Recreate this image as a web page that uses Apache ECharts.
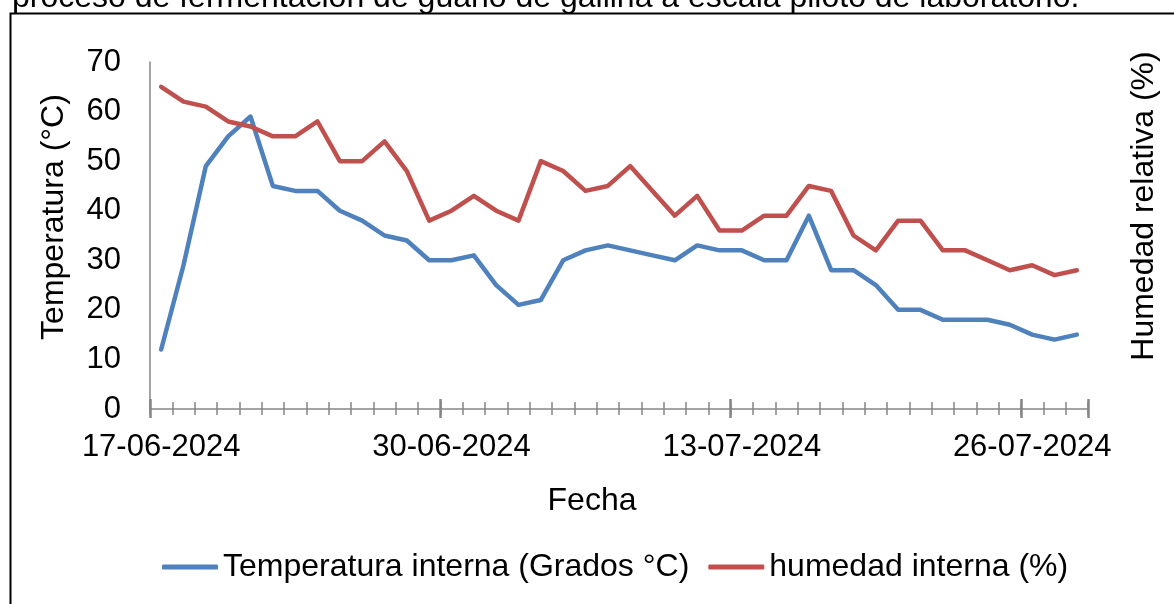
<!DOCTYPE html>
<html>
<head>
<meta charset="utf-8">
<script src="https://cdn.jsdelivr.net/npm/echarts@6/dist/echarts.min.js"></script>
<style>
html, body { margin: 0; padding: 0; background: #fff; }
#chart { width: 1174px; height: 604px; }
</style>
</head>
<body>
<div id="chart"></div>
<script>
var fechas = ['17-06-2024','18-06-2024','19-06-2024','20-06-2024','21-06-2024','22-06-2024','23-06-2024',
	'24-06-2024','25-06-2024','26-06-2024','27-06-2024','28-06-2024','29-06-2024','30-06-2024',
	'01-07-2024','02-07-2024','03-07-2024','04-07-2024','05-07-2024','06-07-2024','07-07-2024',
	'08-07-2024','09-07-2024','10-07-2024','11-07-2024','12-07-2024','13-07-2024','14-07-2024',
	'15-07-2024','16-07-2024','17-07-2024','18-07-2024','19-07-2024','20-07-2024','21-07-2024',
	'22-07-2024','23-07-2024','24-07-2024','25-07-2024','26-07-2024','27-07-2024','28-07-2024'];
var temperatura = [12, 29, 49, 55, 59, 45, 44, 44, 40, 38, 35, 34, 30, 30,
	31, 25, 21, 22, 30, 32, 33, 32, 31, 30, 33, 32, 32, 30,
	30, 39, 28, 28, 25, 20, 20, 18, 18, 18, 17, 15, 14, 15];
var humedad = [65, 62, 61, 58, 57, 55, 55, 58, 50, 50, 54, 48, 38, 40,
	43, 40, 38, 50, 48, 44, 45, 49, 44, 39, 43, 36, 36, 39,
	39, 45, 44, 35, 32, 38, 38, 32, 32, 30, 28, 29, 27, 28];
var yTicks = [0, 70, 10]; // min, max, paso

var fuente = '"Liberation Sans", Arial, sans-serif';
var gris = '#868686';

var chart = echarts.init(document.getElementById('chart'));

// eje x extra, solo para dibujar marcas
function ejeMarcas(inside, len, width, interval) {
	return {
		type: 'category',
		data: fechas,
		position: 'bottom',
		boundaryGap: true,
		axisLine: { show: false },
		axisLabel: { show: false },
		axisTick: { show: true, inside: inside, length: len, interval: interval,
			lineStyle: { color: gris, width: width } },
		splitLine: { show: false }
	};
}

chart.setOption({
	animation: false,
	textStyle: { fontFamily: fuente },
	grid: { left: 150, right: 86, top: 62, bottom: 195, containLabel: false },
	legend: {
		left: 157,
		top: 546,
		itemWidth: 56,
		itemHeight: 5,
		itemGap: 19,
		icon: 'roundRect',
		textStyle: { fontSize: 32, color: '#000', fontFamily: fuente },
		data: ['Temperatura interna (Grados °C)', 'humedad interna (%)']
	},
	xAxis: [{
		type: 'category',
		data: fechas,
		position: 'bottom',
		boundaryGap: true,
		axisLine: { show: true, lineStyle: { color: gris, width: 1.5 } },
		axisTick: { show: true, length: 6, interval: 0, lineStyle: { color: gris, width: 1.5 } },
		axisLabel: { interval: 12, fontSize: 31, color: '#000', margin: 23, fontFamily: fuente },
		splitLine: { show: false }
	},
	ejeMarcas(true, 7, 1.5, 0),
	ejeMarcas(true, 10, 2.5, 12),
	ejeMarcas(false, 9, 2.5, 12)
	],
	yAxis: [{
		type: 'value',
		min: yTicks[0], max: yTicks[1], interval: yTicks[2],
		axisLine: { show: true, lineStyle: { color: gris, width: 1.5 } },
		axisTick: { show: false },
		axisLabel: { fontSize: 31, color: '#000', margin: 29, fontFamily: fuente },
		splitLine: { show: false }
	}, {
		type: 'value',
		position: 'right',
		min: yTicks[0], max: yTicks[1], interval: yTicks[2],
		axisLine: { show: false },
		axisTick: { show: false },
		axisLabel: { show: false },
		splitLine: { show: false }
	}],
	graphic: [{
		type: 'rect',
		shape: { x: 10.5, y: 13.5, width: 1200, height: 700 },
		style: { fill: null, stroke: '#000', lineWidth: 2 },
		silent: true
	}, {
		type: 'text',
		x: 12, y: 14,
		style: { text: 'proceso de fermentación de guano de gallina a escala piloto de laboratorio.',
			font: '32px ' + fuente, fill: '#000', verticalAlign: 'bottom' }
	}, {
		type: 'text',
		x: 54, y: 217, rotation: Math.PI / 2,
		style: { text: 'Temperatura (°C)', font: '32px ' + fuente, fill: '#000',
			align: 'center', verticalAlign: 'middle' }
	}, {
		type: 'text',
		x: 1144, y: 206, rotation: Math.PI / 2,
		style: { text: 'Humedad relativa (%)', font: '32px ' + fuente, fill: '#000',
			align: 'center', verticalAlign: 'middle' }
	}, {
		type: 'text',
		x: 592, y: 501,
		style: { text: 'Fecha', font: '32px ' + fuente, fill: '#000',
			align: 'center', verticalAlign: 'middle' }
	}],
	series: [{
		name: 'Temperatura interna (Grados °C)',
		type: 'line',
		xAxisIndex: 0,
		yAxisIndex: 0,
		data: temperatura,
		showSymbol: false,
		symbol: 'none',
		color: '#4F81BD',
		lineStyle: { width: 4.5, color: '#4F81BD', join: 'round', cap: 'round' }
	}, {
		name: 'humedad interna (%)',
		type: 'line',
		xAxisIndex: 0,
		yAxisIndex: 1,
		data: humedad,
		showSymbol: false,
		symbol: 'none',
		color: '#C0504D',
		lineStyle: { width: 4.5, color: '#C0504D', join: 'round', cap: 'round' }
	}]
});
</script>
</body>
</html>
